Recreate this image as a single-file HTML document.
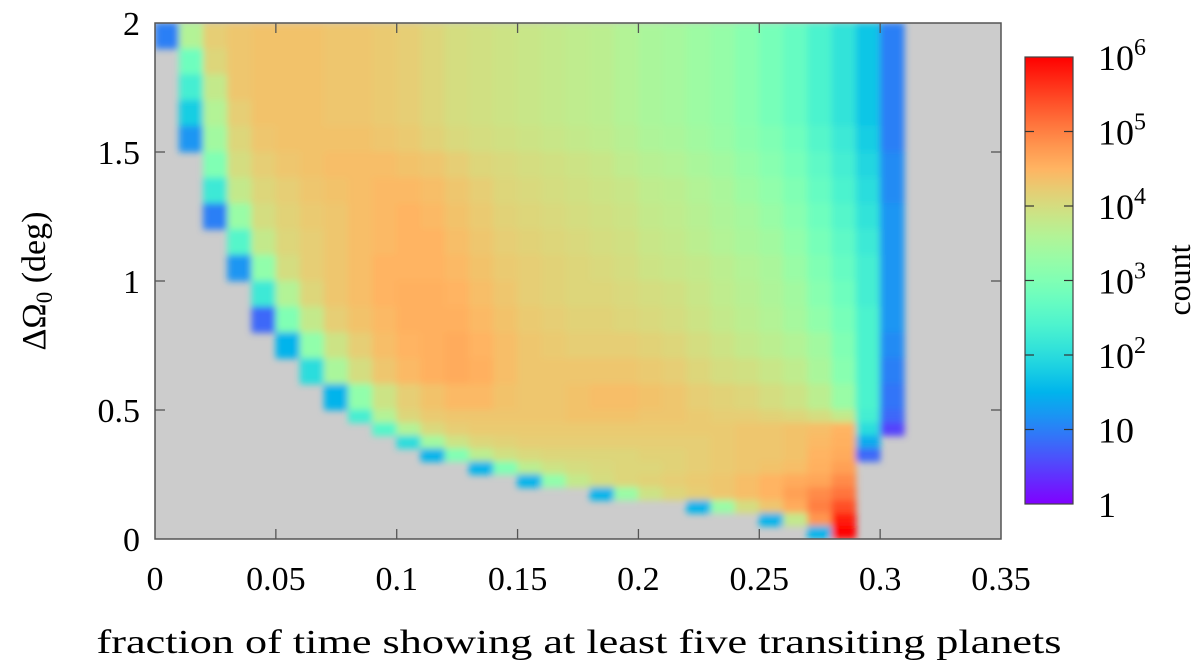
<!DOCTYPE html>
<html><head><meta charset="utf-8">
<style>
html,body{margin:0;padding:0;background:#fff;}
svg{display:block;font-family:"Liberation Serif","DejaVu Serif",serif;}
</style></head>
<body>
<svg id="chart" width="1200" height="665" viewBox="0 0 1200 665" xmlns="http://www.w3.org/2000/svg">
<defs>
<clipPath id="plotclip"><rect x="155" y="23" width="846" height="516"/></clipPath>
<filter id="soft" x="-5%" y="-5%" width="110%" height="110%"><feGaussianBlur stdDeviation="3.5"/></filter>
<linearGradient id="cbgrad" x1="0" y1="1" x2="0" y2="0"></linearGradient>
</defs>
<rect x="155" y="23" width="846" height="516" fill="#cccccc"/>
<g id="cells" clip-path="url(#plotclip)"><g id="cellsInner" filter="url(#soft)"></g></g>
<rect x="155" y="23" width="846" height="516" fill="none" stroke="#555" stroke-width="1.5"/>
<g id="axes"></g>
<text x="579" y="653" font-size="34" text-anchor="middle" textLength="965" lengthAdjust="spacingAndGlyphs">fraction of time showing at least five transiting planets</text>
<text transform="translate(45,281) rotate(-90)" font-size="34" text-anchor="middle">ΔΩ<tspan font-size="23" dy="7">0</tspan><tspan dy="-7"> (deg)</tspan></text>
<rect x="1025" y="57" width="48" height="447" fill="url(#cbgrad)" stroke="#444" stroke-width="1.2"/>
<g id="cbaxis"></g>
<text transform="translate(1190,280) rotate(-90)" font-size="32" text-anchor="middle">count</text>
</svg>
<script>
// ---- data ----
const xTicks = [0, 0.05, 0.1, 0.15, 0.2, 0.25, 0.3, 0.35];
const xTickLabels = ["0","0.05","0.1","0.15","0.2","0.25","0.3","0.35"];
const yTicks = [0, 0.5, 1, 1.5, 2];
const yTickLabels = ["0","0.5","1","1.5","2"];
const cbTicks = [0,1,2,3,4,5,6];
const cbBase = ["1","10","10","10","10","10","10"];
const cbExp = ["","","2","3","4","5","6"];
const xBinWidth = 0.01;
const rowTops = [2.0,1.9,1.8,1.7,1.6,1.5,1.4,1.3,1.2,1.1,1.0,0.9,0.8,0.7,0.6,0.5,0.45,0.4,0.35,0.3,0.25,0.2,0.15,0.1,0.05];
const rowBottoms = [1.9,1.8,1.7,1.6,1.5,1.4,1.3,1.2,1.1,1.0,0.9,0.8,0.7,0.6,0.5,0.45,0.4,0.35,0.3,0.25,0.2,0.15,0.1,0.05,0.0];
// log10(count) per bin, -1 = empty
const logCounts = [
[1.0,3.6,4.2,4.3,4.35,4.35,4.35,4.3,4.3,4.25,4.2,4.1,4.0,3.95,3.9,3.85,3.8,3.75,3.7,3.6,3.5,3.45,3.35,3.25,3.1,2.9,2.7,2.4,2.1,1.7,1.0,-1],
[-1,2.8,4.1,4.3,4.35,4.35,4.35,4.3,4.3,4.25,4.2,4.1,4.0,3.95,3.9,3.85,3.8,3.75,3.7,3.6,3.5,3.45,3.35,3.25,3.1,2.9,2.7,2.4,2.1,1.7,1.0,-1],
[-1,2.3,3.8,4.3,4.35,4.35,4.35,4.3,4.3,4.25,4.2,4.1,4.0,3.95,3.9,3.85,3.8,3.75,3.7,3.6,3.5,3.45,3.35,3.25,3.1,2.9,2.7,2.4,2.1,1.7,1.0,-1],
[-1,1.8,3.6,4.2,4.35,4.35,4.35,4.3,4.3,4.25,4.2,4.1,4.0,3.95,3.9,3.85,3.8,3.75,3.7,3.6,3.5,3.45,3.35,3.25,3.1,2.9,2.7,2.4,2.1,1.7,1.0,-1],
[-1,1.2,3.4,4.1,4.3,4.35,4.35,4.35,4.35,4.3,4.25,4.15,4.05,4.0,3.95,3.9,3.85,3.8,3.75,3.65,3.55,3.5,3.4,3.3,3.15,3.0,2.8,2.5,2.2,1.8,1.0,-1],
[-1,-1,3.0,4.0,4.2,4.3,4.35,4.4,4.4,4.4,4.35,4.3,4.2,4.1,4.05,4.0,3.95,3.9,3.85,3.75,3.65,3.6,3.5,3.4,3.25,3.1,2.9,2.6,2.3,1.9,1.1,-1],
[-1,-1,2.2,3.8,4.1,4.2,4.3,4.35,4.4,4.45,4.45,4.4,4.3,4.2,4.1,4.05,4.0,3.95,3.9,3.85,3.75,3.7,3.6,3.5,3.35,3.2,3.0,2.7,2.4,2.0,1.1,-1],
[-1,-1,1.0,3.3,4.0,4.15,4.25,4.3,4.4,4.45,4.5,4.45,4.35,4.25,4.15,4.1,4.05,4.0,3.95,3.9,3.8,3.75,3.65,3.55,3.45,3.3,3.1,2.8,2.5,2.1,1.2,-1],
[-1,-1,-1,2.5,3.8,4.1,4.2,4.3,4.4,4.45,4.5,4.5,4.4,4.3,4.2,4.15,4.1,4.05,4.0,3.95,3.85,3.8,3.7,3.6,3.5,3.4,3.2,2.9,2.6,2.2,1.2,-1],
[-1,-1,-1,1.2,3.2,4.0,4.2,4.3,4.4,4.5,4.5,4.5,4.45,4.35,4.25,4.2,4.15,4.1,4.05,4.0,3.9,3.85,3.8,3.7,3.6,3.5,3.3,3.0,2.7,2.3,1.2,-1],
[-1,-1,-1,-1,2.2,3.6,4.1,4.3,4.4,4.5,4.55,4.55,4.5,4.4,4.3,4.2,4.15,4.1,4.1,4.05,4.0,3.95,3.85,3.75,3.65,3.55,3.4,3.1,2.8,2.3,1.2,-1],
[-1,-1,-1,-1,0.8,3.0,3.8,4.2,4.35,4.45,4.55,4.55,4.55,4.45,4.35,4.25,4.2,4.15,4.15,4.1,4.05,4.0,3.9,3.8,3.7,3.6,3.45,3.2,2.9,2.4,1.2,-1],
[-1,-1,-1,-1,-1,1.5,3.2,3.9,4.2,4.4,4.5,4.55,4.6,4.5,4.4,4.3,4.25,4.2,4.2,4.2,4.15,4.1,4.0,3.9,3.8,3.7,3.6,3.4,3.0,2.4,1.1,-1],
[-1,-1,-1,-1,-1,-1,2.0,3.5,4.0,4.3,4.45,4.55,4.6,4.55,4.4,4.3,4.3,4.3,4.3,4.3,4.25,4.2,4.1,4.0,3.95,3.85,3.75,3.5,3.1,2.4,1.0,-1],
[-1,-1,-1,-1,-1,-1,-1,1.5,3.2,3.9,4.2,4.35,4.45,4.45,4.35,4.3,4.3,4.35,4.4,4.4,4.35,4.3,4.2,4.15,4.1,4.0,3.9,3.7,3.3,2.4,0.9,-1],
[-1,-1,-1,-1,-1,-1,-1,-1,2.3,3.6,4.1,4.25,4.3,4.3,4.3,4.3,4.3,4.35,4.35,4.35,4.3,4.3,4.25,4.2,4.2,4.15,4.1,4.0,3.8,2.3,0.8,-1],
[-1,-1,-1,-1,-1,-1,-1,-1,-1,2.5,3.6,4.05,4.2,4.25,4.25,4.25,4.25,4.25,4.25,4.25,4.25,4.25,4.25,4.25,4.3,4.3,4.35,4.4,4.5,2.0,0.5,-1],
[-1,-1,-1,-1,-1,-1,-1,-1,-1,-1,2.0,3.4,3.9,4.1,4.15,4.2,4.2,4.2,4.2,4.2,4.2,4.2,4.2,4.25,4.3,4.3,4.35,4.45,4.55,1.4,-1,-1],
[-1,-1,-1,-1,-1,-1,-1,-1,-1,-1,-1,1.5,3.0,3.7,3.95,4.05,4.1,4.1,4.1,4.1,4.15,4.15,4.2,4.25,4.3,4.3,4.35,4.5,4.6,0.8,-1,-1],
[-1,-1,-1,-1,-1,-1,-1,-1,-1,-1,-1,-1,-1,1.5,3.0,3.7,3.9,4.0,4.05,4.1,4.1,4.15,4.2,4.25,4.3,4.35,4.4,4.55,4.7,-1,-1,-1],
[-1,-1,-1,-1,-1,-1,-1,-1,-1,-1,-1,-1,-1,-1,-1,1.5,3.2,3.8,4.0,4.1,4.15,4.2,4.25,4.3,4.4,4.5,4.6,4.65,4.9,-1,-1,-1],
[-1,-1,-1,-1,-1,-1,-1,-1,-1,-1,-1,-1,-1,-1,-1,-1,-1,-1,1.5,3.3,3.9,4.1,4.2,4.3,4.4,4.5,4.7,4.9,5.1,-1,-1,-1],
[-1,-1,-1,-1,-1,-1,-1,-1,-1,-1,-1,-1,-1,-1,-1,-1,-1,-1,-1,-1,-1,-1,1.5,3.3,4.0,4.3,4.6,5.0,5.4,-1,-1,-1],
[-1,-1,-1,-1,-1,-1,-1,-1,-1,-1,-1,-1,-1,-1,-1,-1,-1,-1,-1,-1,-1,-1,-1,-1,-1,1.5,3.8,4.8,5.8,-1,-1,-1],
[-1,-1,-1,-1,-1,-1,-1,-1,-1,-1,-1,-1,-1,-1,-1,-1,-1,-1,-1,-1,-1,-1,-1,-1,-1,-1,-1,1.5,6.0,-1,-1,-1]
];
// ---- scales ----
const X0=155, X1=1001, Y0=539, Y1=23;
const xScale = v => X0 + (v/0.35)*(X1-X0);
const yScale = v => Y0 - (v/2)*(Y0-Y1);
const CB_TOP=57, CB_BOT=504;
const cbScale = v => CB_BOT - (v/6)*(CB_BOT-CB_TOP);
function color(t){
  t=Math.max(0,Math.min(1,t));
  const r=Math.min(1,Math.abs(2*t-0.5)), g=Math.sin(Math.PI*t), b=Math.cos(Math.PI*t/2);
  return `rgb(${Math.round(r*255)},${Math.round(g*255)},${Math.round(b*255)})`;
}
const NS="http://www.w3.org/2000/svg";
function mk(tag, attrs, parent){const e=document.createElementNS(NS,tag);for(const k in attrs)e.setAttribute(k,attrs[k]);parent.appendChild(e);return e;}
// ---- cells ----
const cg=document.getElementById('cellsInner');
logCounts.forEach((row,ri)=>{
  row.forEach((v,ci)=>{
    if(v<0) return;
    const x0=xScale(ci*xBinWidth), x1=xScale((ci+1)*xBinWidth);
    const yt=yScale(rowTops[ri]), yb=yScale(rowBottoms[ri]);
    const r=mk('rect',{x:x0-0.3,y:yt-0.3,width:x1-x0+0.6,height:yb-yt+0.6,fill:color(v/6)},cg);
    
    
  });
});
// ---- axes ----
const ax=document.getElementById('axes');
xTicks.forEach((v,i)=>{
  const x=xScale(v);
  if(i>0&&i<xTicks.length-1){
    const t1=mk('line',{x1:x,x2:x,y1:Y0,y2:Y0-10,stroke:'#555','stroke-width':1.3},ax);
    
    
    const t2=mk('line',{x1:x,x2:x,y1:Y1,y2:Y1+10,stroke:'#555','stroke-width':1.3},ax);
    
    
  }
  const tx=mk('text',{x:x,y:590,'font-size':34,'text-anchor':'middle'},ax);
  tx.textContent=xTickLabels[i];
  
  
});
yTicks.forEach((v,i)=>{
  const y=yScale(v);
  if(i>0&&i<yTicks.length-1){
    const t1=mk('line',{x1:X0,x2:X0+10,y1:y,y2:y,stroke:'#555','stroke-width':1.3},ax);
    
    
    const t2=mk('line',{x1:X1,x2:X1-10,y1:y,y2:y,stroke:'#555','stroke-width':1.3},ax);
    
    
  }
  const tx=mk('text',{x:140,y:y+12,'font-size':34,'text-anchor':'end'},ax);
  tx.textContent=yTickLabels[i];
  
  
});
// ---- colorbar ----
const grad=document.getElementById('cbgrad');
for(let k=0;k<=20;k++){mk('stop',{offset:(k/20),'stop-color':color(k/20)},grad);}
const cb=document.getElementById('cbaxis');
cbTicks.forEach((v,i)=>{
  const y=cbScale(v);
  if(i>0&&i<cbTicks.length-1){
    const a=mk('line',{x1:1025,x2:1034,y1:y,y2:y,stroke:'#333','stroke-width':1.2},cb);
    
    
    const b=mk('line',{x1:1073,x2:1064,y1:y,y2:y,stroke:'#333','stroke-width':1.2},cb);
    
    
  }
  const tx=mk('text',{x:1098,y:y+13,'font-size':36},cb);
  tx.textContent=cbBase[i];
  if(cbExp[i]){
    const s=mk('tspan',{'font-size':24,dy:-15},tx);
    s.textContent=cbExp[i];
  }
  
  
});
</script>
</body></html>
